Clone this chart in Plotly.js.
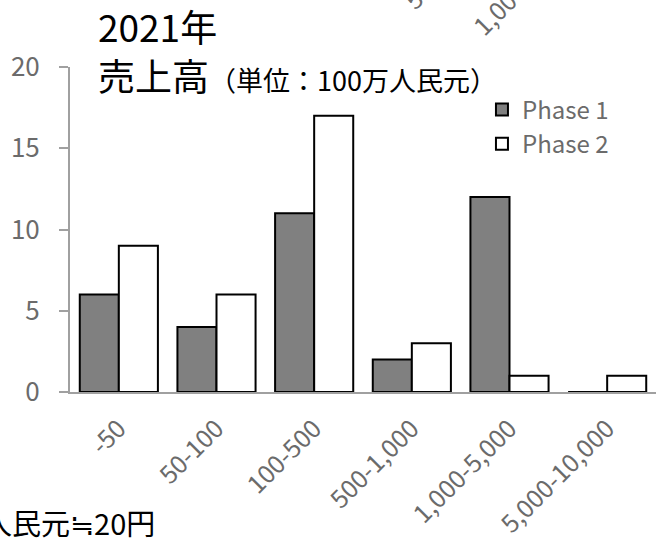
<!DOCTYPE html>
<html>
<head>
<meta charset="utf-8">
<script src="https://cdn.plot.ly/plotly-3.0.1.min.js"></script>
<style>html,body{margin:0;padding:0;background:#fff;}#chart{width:658px;height:546px;}</style>
</head>
<body>
<div id="chart"></div>
<script>
const categories = ["-50", "50-100", "100-500", "500-1,000", "1,000-5,000", "5,000-10,000"];
const phase1 = [6, 4, 11, 2, 12, 0];
const phase2 = [9, 6, 17, 3, 1, 1];
const seriesNames = ["Phase 1", "Phase 2"];
const yTicks = [0, 5, 10, 15, 20];

const FONT = '"Noto Sans CJK JP", "Noto Sans", sans-serif';
const GRAY = '#6b6b6b';
const AXIS = '#a0a0a0';

const traces = [
  {type: 'bar', name: seriesNames[0], x: categories, y: phase1,
   marker: {color: '#808080', line: {color: '#000', width: 2}}},
  {type: 'bar', name: seriesNames[1], x: categories, y: phase2,
   marker: {color: '#ffffff', line: {color: '#000', width: 2}}}
];

const layout = {
  width: 658, height: 546,
  margin: {l: 70, r: 2, t: 67, b: 154},
  paper_bgcolor: '#fff', plot_bgcolor: '#fff',
  font: {family: FONT, color: GRAY},
  barmode: 'group', bargap: 0.2, bargroupgap: 0,
  showlegend: true,
  legend: {x: 0.703, y: 0.937, xanchor: 'left', yanchor: 'top',
    font: {family: FONT, size: 24, color: GRAY}, bgcolor: 'rgba(0,0,0,0)',
    tracegroupgap: 0, itemwidth: 30, itemclick: false},
  xaxis: {type: 'category', showline: true, linecolor: AXIS, linewidth: 2,
    ticks: '', tickangle: -45, tickfont: {family: FONT, size: 25, color: GRAY},
    ticklabelstandoff: 10, showgrid: false, zeroline: false, fixedrange: true},
  yaxis: {range: [0, 20], tickvals: yTicks, showline: true, linecolor: AXIS, linewidth: 2,
    ticks: 'outside', ticklen: 9, tickwidth: 2, tickcolor: AXIS,
    tickfont: {family: FONT, size: 26, color: GRAY}, ticklabelstandoff: 14,
    showgrid: false, zeroline: false, fixedrange: true},
  annotations: [
    {xref: 'paper', yref: 'paper', x: 0.044, y: 1.125, xanchor: 'left', yanchor: 'middle',
     text: '2021年', showarrow: false, font: {family: FONT, size: 37, color: '#000'}},
    {xref: 'paper', yref: 'paper', x: 0.044, y: 0.975, xanchor: 'left', yanchor: 'middle',
     text: '売上高<span style="font-size:27px">（単位：100万人民元）</span>', showarrow: false,
     font: {family: FONT, size: 37, color: '#000'}},
    {xref: 'paper', yref: 'paper', x: 0.148, y: -0.40, xanchor: 'right', yanchor: 'middle',
     text: '1人民元≒20円', showarrow: false, font: {family: FONT, size: 29, color: '#000'}},
    {xref: 'paper', yref: 'paper', x: 0.645, y: 1.32, xanchor: 'center', yanchor: 'middle',
     text: '500-1,000', textangle: -45, showarrow: false, font: {family: FONT, size: 25, color: GRAY}},
    {xref: 'paper', yref: 'paper', x: 0.775, y: 1.262, xanchor: 'center', yanchor: 'middle',
     text: '1,000-5,000', textangle: -45, showarrow: false, font: {family: FONT, size: 25, color: GRAY}}
  ]
};

Plotly.newPlot('chart', traces, layout, {staticPlot: true, displayModeBar: false});
</script>
</body>
</html>
